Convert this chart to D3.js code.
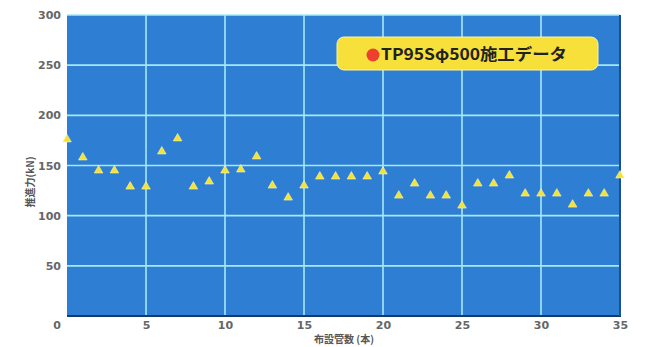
<!DOCTYPE html>
<html><head><meta charset="utf-8">
<script src="https://cdn.jsdelivr.net/npm/d3@7"></script>
<style>body{margin:0;background:#fff;}svg{display:block;}</style>
</head><body>
<svg id="c" width="650" height="347"></svg>
<script>
const pipeCount = [0,1,2,3,4,5,6,7,8,9,10,11,12,13,14,15,16,17,18,19,20,21,22,23,24,25,26,27,28,29,30,31,32,33,34,35];
const thrust = [176,158,145,145,129,129,164,177,129,134,145,146,159,130,118,130,139,139,139,139,144,120,132,120,120,110,132,132,140,122,122,122,111,122,122,140];
const xTicks = [0,5,10,15,20,25,30,35];
const yTicks = [0,50,100,150,200,250,300];
const legendLabel = "TP95Sφ500施工データ";
const xTitle = "布設管数 (本)";
const yTitle = "推進力(kN)";

const svg = d3.select("#c");
const L = 67, R = 620, T = 15, B = 316;
const x = d3.scaleLinear().domain([0,35]).range([L,R]);
const y = d3.scaleLinear().domain([0,300]).range([B,T]);
const font = "'DejaVu Sans', 'Noto Sans CJK JP', sans-serif";
const jfont = "'Noto Sans CJK JP', sans-serif";

svg.append("rect").attr("x",L).attr("y",T).attr("width",R-L).attr("height",B-T).attr("fill","#2e7fd3");

// grid
svg.append("g").selectAll("line").data(yTicks.filter(d=>d>0)).join("line")
  .attr("x1",L).attr("x2",R).attr("y1",d=>y(d)).attr("y2",d=>y(d))
  .attr("stroke","#a6e9f5").attr("stroke-width",1.6);
svg.append("g").selectAll("line").data(xTicks.filter(d=>d>0&&d<35)).join("line")
  .attr("x1",d=>x(d)).attr("x2",d=>x(d)).attr("y1",T).attr("y2",B)
  .attr("stroke","#a6e9f5").attr("stroke-width",1.6);

// borders
svg.append("line").attr("x1",L).attr("x2",R+1).attr("y1",B).attr("y2",B).attr("stroke","#123a6e").attr("stroke-width",2);
svg.append("line").attr("x1",R).attr("x2",R).attr("y1",T).attr("y2",B).attr("stroke","#1b4f8e").attr("stroke-width",2);

// axes
const xAxis = d3.axisBottom(x).tickValues(xTicks.filter(d=>d>0)).tickSize(0).tickPadding(4);
const gx = svg.append("g").attr("transform",`translate(0,${B+1})`).call(xAxis);
gx.select(".domain").remove();
gx.selectAll("text").attr("fill","#666").attr("font-size",11).attr("font-weight","bold").attr("font-family",font);

const yAxis = d3.axisLeft(y).tickValues(yTicks).tickSize(0).tickPadding(6);
const gy = svg.append("g").attr("transform",`translate(${L},0)`).call(yAxis);
gy.select(".domain").remove();
gy.selectAll("text").attr("fill","#666").attr("font-size",11).attr("font-weight","bold").attr("font-family",font);
gy.selectAll(".tick").filter(d=>d===0).attr("transform",`translate(0,${y(0)+9})`);

// titles
svg.append("text").attr("x",344).attr("y",343).attr("text-anchor","middle")
  .attr("font-size",10).attr("font-weight","bold").attr("fill","#555").attr("font-family",jfont).text(xTitle);
svg.append("text").attr("transform","translate(34,182) rotate(-90)").attr("text-anchor","middle")
  .attr("font-size",10).attr("font-weight","bold").attr("fill","#555").attr("font-family",jfont).text(yTitle);

// points
svg.append("g").selectAll("path").data(pipeCount).join("path")
  .attr("d", d3.symbol(d3.symbolTriangle, 32))
  .attr("transform",(d,i)=>`translate(${x(d)},${y(thrust[i])})`)
  .attr("fill","#f2e23a").attr("stroke","#fff7a0").attr("stroke-width",0.6);

// legend
const lg = svg.append("g");
lg.append("rect").attr("x",337).attr("y",37).attr("width",261).attr("height",33).attr("rx",7)
  .attr("fill","#f7e03a").attr("stroke","#fff3a0").attr("stroke-width",1);
lg.append("circle").attr("cx",373).attr("cy",55).attr("r",6.5).attr("fill","#ee4030");
lg.append("text").attr("x",381).attr("y",60).attr("font-size",16).attr("font-weight","bold")
  .attr("textLength",186).attr("lengthAdjust","spacingAndGlyphs")
  .attr("fill","#222").attr("font-family",jfont).text(legendLabel);
</script>
</body></html>
